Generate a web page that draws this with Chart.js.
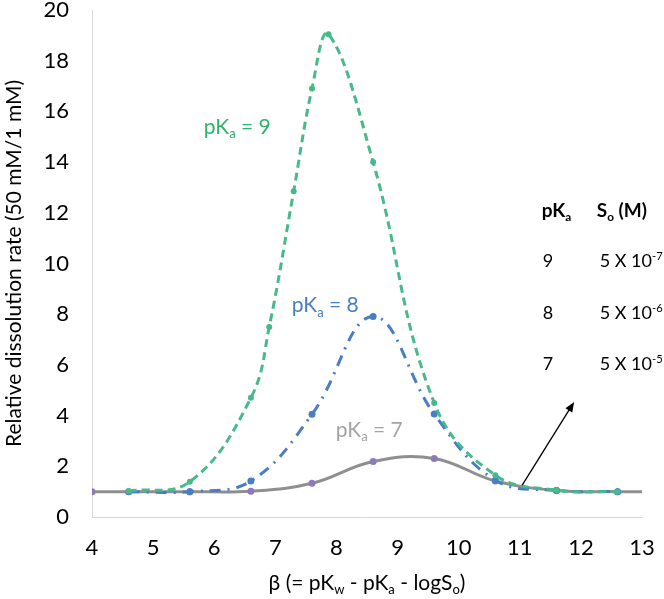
<!DOCTYPE html>
<html>
<head>
<meta charset="utf-8">
<script src="https://cdn.jsdelivr.net/npm/chart.js@4.4.1/dist/chart.umd.min.js"></script>
<style>
  html, body { margin: 0; background: #fff; }
</style>
</head>
<body>
<canvas id="chart" width="664" height="599"></canvas>
<script>
// beta values and relative dissolution rate for each pKa
const betaPKa9 = [4.6, 5.6, 6.6, 6.9, 7.3, 7.6, 7.87, 8.6, 9.6, 10.6, 11.6, 12.6];
const ratePKa9 = [1.02, 1.39, 4.7, 7.5, 12.85, 16.9, 19.04, 14.0, 4.5, 1.65, 1.06, 1.0];

const betaPKa8 = [4.6, 5.6, 6.6, 7.6, 8.6, 9.6, 10.6, 11.6, 12.6];
const ratePKa8 = [1.0, 1.0, 1.42, 4.05, 7.91, 4.06, 1.45, 1.05, 1.0];

const betaPKa7 = [4, 5.6, 6.6, 7.6, 8.6, 9.6, 10.6, 11.6, 12.6, 13];
const ratePKa7 = [1.0, 1.0, 1.02, 1.33, 2.19, 2.31, 1.42, 1.05, 1.0, 1.0];

const xTicks = [4, 5, 6, 7, 8, 9, 10, 11, 12, 13];
const yTicks = [0, 2, 4, 6, 8, 10, 12, 14, 16, 18, 20];

// legend table (pKa, So)
const tablePKa = ['9', '8', '7'];
const tableSoExp = ['-7', '-6', '-5'];

const toPoints = (xs, ys) => xs.map((x, i) => ({ x: x, y: ys[i] }));

const FONT = 'Lato';

function rich(ctx, x, y, parts, size, weight, dry) {
  let cx = x;
  parts.forEach(p => {
    const s = (p.sub || p.sup) ? size * 0.62 : size;
    ctx.font = weight + ' ' + s + 'px ' + FONT;
    const dy = p.sub ? size * 0.2 : (p.sup ? -size * 0.38 : 0);
    if (!dry) ctx.fillText(p.t, cx, y + dy);
    cx += ctx.measureText(p.t).width;
  });
  return cx - x;
}

const annotations = {
  id: 'annotations',
  afterDraw(chart) {
    const ctx = chart.ctx;
    const xs = chart.scales.x, ys = chart.scales.y;
    const px = v => xs.getPixelForValue(v);
    const py = v => ys.getPixelForValue(v);
    ctx.save();
    ctx.textBaseline = 'alphabetic';
    ctx.textAlign = 'left';

    // curve labels
    ctx.fillStyle = '#2eb36c';
    rich(ctx, px(5.83), py(15.12), [{ t: 'pK' }, { t: 'a', sub: true }, { t: ' = 9' }], 21, 'normal');
    ctx.fillStyle = '#4a7ec4';
    rich(ctx, px(7.27), py(8.07), [{ t: 'pK' }, { t: 'a', sub: true }, { t: ' = 8' }], 21, 'normal');
    ctx.fillStyle = '#a3a3a3';
    rich(ctx, px(7.99), py(3.16), [{ t: 'pK' }, { t: 'a', sub: true }, { t: ' = 7' }], 21, 'normal');

    // table
    ctx.fillStyle = '#000';
    const col1 = px(11.36), col2 = px(12.26);
    const head = ys.getPixelForValue(0) - 300;
    rich(ctx, col1, head, [{ t: 'pK' }, { t: 'a', sub: true }], 19, 'bold');
    rich(ctx, col2, head, [{ t: 'S' }, { t: 'o', sub: true }, { t: ' (M)' }], 19, 'bold');
    tablePKa.forEach((p, i) => {
      const yy = head + 50 + i * 51.5;
      rich(ctx, col1 + 1, yy, [{ t: p }], 18, 'normal');
      rich(ctx, col2 + 3, yy, [{ t: '5 X 10' }, { t: tableSoExp[i], sup: true }], 18, 'normal');
    });

    // arrow
    const x0 = px(11.04), y0 = py(1.26), x1 = px(11.89), y1 = py(4.54);
    const ang = Math.atan2(y1 - y0, x1 - x0);
    ctx.strokeStyle = '#000';
    ctx.lineWidth = 1.3;
    ctx.beginPath();
    ctx.moveTo(x0, y0);
    ctx.lineTo(x1 - 8 * Math.cos(ang), y1 - 8 * Math.sin(ang));
    ctx.stroke();
    ctx.fillStyle = '#000';
    ctx.beginPath();
    ctx.moveTo(x1, y1);
    ctx.lineTo(x1 - 10 * Math.cos(ang) + 4 * Math.sin(ang), y1 - 10 * Math.sin(ang) - 4 * Math.cos(ang));
    ctx.lineTo(x1 - 10 * Math.cos(ang) - 4 * Math.sin(ang), y1 - 10 * Math.sin(ang) + 4 * Math.cos(ang));
    ctx.closePath();
    ctx.fill();

    // x axis title
    const parts = [{ t: 'β (= pK' }, { t: 'w', sub: true }, { t: ' - pK' }, { t: 'a', sub: true }, { t: ' - logS' }, { t: 'o', sub: true }, { t: ')' }];
    const w = rich(ctx, 0, 0, parts, 21, 'normal', true);
    const mid = (chart.chartArea.left + chart.chartArea.right) / 2;
    rich(ctx, mid - w / 2, chart.chartArea.bottom + 73, parts, 21, 'normal');
    ctx.restore();
  }
};

new Chart(document.getElementById('chart').getContext('2d'), {
  type: 'line',
  data: {
    datasets: [
      {
        label: 'pKa = 9',
        data: toPoints(betaPKa9, ratePKa9),
        borderColor: '#47b98a',
        backgroundColor: '#47b98a',
        borderWidth: 3,
        borderDash: [8, 5],
        pointRadius: 3,
        pointBorderWidth: 0,
        tension: 0.4
      },
      {
        label: 'pKa = 8',
        data: toPoints(betaPKa8, ratePKa8),
        borderColor: '#4a7ec4',
        backgroundColor: '#4a7ec4',
        borderWidth: 3,
        borderDash: [11, 7, 2, 7],
        pointRadius: 3.5,
        pointBorderWidth: 0,
        tension: 0.4
      },
      {
        label: 'pKa = 7',
        data: toPoints(betaPKa7, ratePKa7),
        borderColor: '#8f8f8f',
        backgroundColor: '#8d79bd',
        borderWidth: 3,
        pointRadius: c => (c.raw && c.raw.x === 13) ? 0 : 3.5,
        pointBorderWidth: 0,
        tension: 0.4
      }
    ]
  },
  options: {
    responsive: false,
    animation: false,
    layout: { padding: { top: 10, right: 22, left: 0, bottom: 0 } },
    plugins: { legend: { display: false }, tooltip: { enabled: false } },
    scales: {
      x: {
        type: 'linear',
        min: 4,
        max: 13,
        afterBuildTicks: s => { s.ticks = xTicks.map(v => ({ value: v })); },
        afterFit: s => { s.height = 82; s.paddingLeft = 0; s.paddingRight = 0; },
        grid: { display: false, drawTicks: false },
        border: { color: '#d9d9d9', width: 1 },
        ticks: { color: '#000', font: { family: FONT, size: 22 }, padding: 18 }
      },
      y: {
        min: 0,
        max: 20,
        afterBuildTicks: s => { s.ticks = yTicks.map(v => ({ value: v })); },
        afterFit: s => { s.width = 92; s.paddingTop = 0; s.paddingBottom = 0; },
        grid: { display: false, drawTicks: false },
        border: { color: '#d9d9d9', width: 1 },
        ticks: { color: '#000', font: { family: FONT, size: 22 }, padding: 23 },
        title: {
          display: true,
          text: 'Relative dissolution rate (50 mM/1 mM)',
          color: '#000',
          font: { family: FONT, size: 21 },
          padding: { top: 2, bottom: 0 }
        }
      }
    }
  },
  plugins: [annotations]
});
</script>
</body>
</html>
